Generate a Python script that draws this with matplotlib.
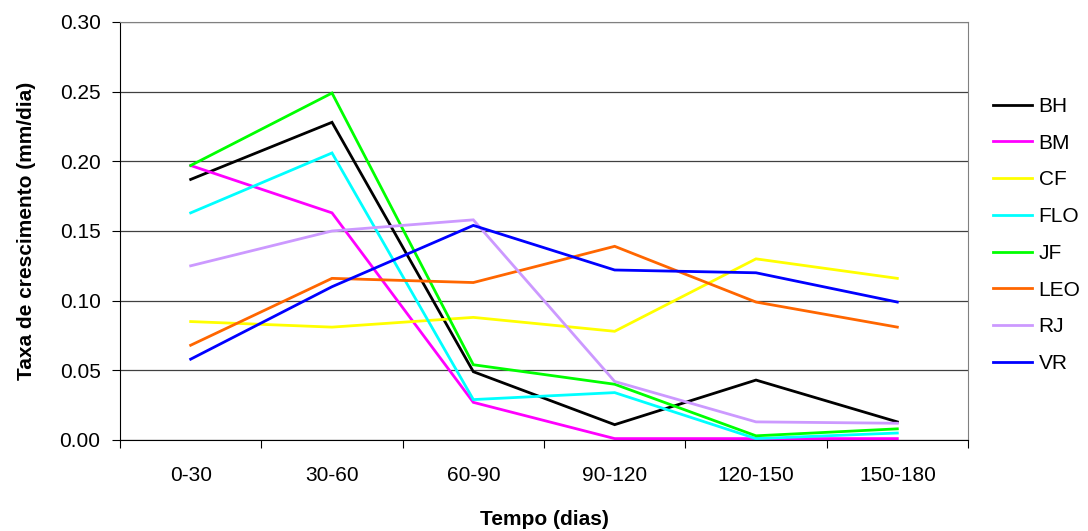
import matplotlib.pyplot as plt

plt.rcParams['font.family'] = ['Liberation Sans', 'DejaVu Sans']

periodos = ['0-30', '30-60', '60-90', '90-120', '120-150', '150-180']

bh = [0.187, 0.228, 0.049, 0.011, 0.043, 0.013]
bm = [0.197, 0.163, 0.027, 0.001, 0.001, 0.001]
cf = [0.085, 0.081, 0.088, 0.078, 0.130, 0.116]
flo = [0.163, 0.206, 0.029, 0.034, 0.001, 0.005]
jf = [0.197, 0.249, 0.054, 0.040, 0.003, 0.008]
leo = [0.068, 0.116, 0.113, 0.139, 0.099, 0.081]
rj = [0.125, 0.150, 0.158, 0.042, 0.013, 0.012]
vr = [0.058, 0.110, 0.154, 0.122, 0.120, 0.099]

series = [('BH', bh, '#000000'), ('BM', bm, '#FF00FF'), ('CF', cf, '#FFFF00'),
          ('FLO', flo, '#00FFFF'), ('JF', jf, '#00FF00'), ('LEO', leo, '#FF6600'),
          ('RJ', rj, '#CC99FF'), ('VR', vr, '#0000FF')]

fs = 15

fig = plt.figure(figsize=(10.88, 5.31), dpi=100)
ax = fig.add_axes([0.1103, 0.1714, 0.7794, 0.7872])

x = range(len(periodos))
for nome, vals, cor in series:
    ax.plot(x, vals, color=cor, lw=2.0, label=nome, solid_joinstyle='miter')

ax.set_xlim(-0.5, len(periodos) - 0.5)
ax.set_ylim(0, 0.30)
ax.set_yticks([0, 0.05, 0.10, 0.15, 0.20, 0.25, 0.30])
ax.set_yticklabels(['%.2f' % v for v in ax.get_yticks()], fontsize=fs)
ax.yaxis.grid(True, color='#404040', lw=0.9)
ax.set_axisbelow(True)

# ticks sit on the category boundaries, labels in the middle
ax.set_xticks([i - 0.5 for i in range(len(periodos) + 1)])
ax.set_xticklabels([])
ax.set_xticks(list(x), minor=True)
ax.set_xticklabels(periodos, minor=True, fontsize=fs)
ax.tick_params(axis='x', which='major', length=6, direction='out', color='#000000')
ax.tick_params(axis='x', which='minor', length=0, pad=19)
ax.tick_params(axis='y', length=6, direction='out', pad=8)

ax.spines['left'].set_color('#000000')
ax.spines['bottom'].set_color('#000000')
ax.spines['top'].set_color('#808080')
ax.spines['right'].set_color('#808080')

ax.set_ylabel('Taxa de crescimento (mm/dia)', fontsize=fs, fontweight='bold', labelpad=17)
ax.set_xlabel('Tempo (dias)', fontsize=fs, fontweight='bold', labelpad=18)

fig.legend(loc='center left', bbox_to_anchor=(0.9124, 0.5575), frameon=False,
           borderpad=0, borderaxespad=0, fontsize=fs, handlelength=1.9,
           handletextpad=0.3, labelspacing=0.85)

fig.savefig('out.png', dpi=100)
